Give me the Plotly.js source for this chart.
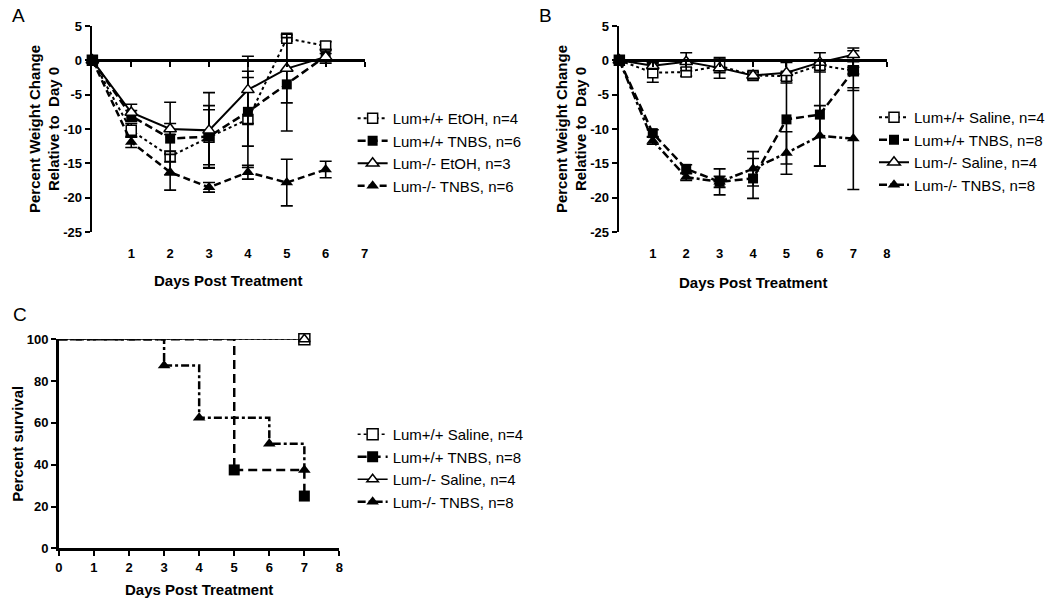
<!DOCTYPE html>
<html><head><meta charset="utf-8">
<script src="https://cdn.plot.ly/plotly-3.0.1.min.js"></script>
<style>html,body{margin:0;padding:0;background:#fff}#chart{width:1050px;height:605px}</style>
</head><body><div id="chart"></div>
<script>
const FONT = 'Liberation Sans, Arial, Helvetica, sans-serif';

// ---------- Panel A data ----------
const daysA = [0, 1, 2, 3, 4, 5, 6];
const aWtEtoh = [0, -10.2, -14.0, -11.2, -8.6, 3.2, 2.1];
const aWtEtohErr = [null, 1.0, 0.8, 4.0, 7.0, 0.4, 0.6];
const aWtTnbs = [0, -8.1, -11.4, -11.1, -7.5, -3.5, 0.6];
const aWtTnbsErr = [null, 0.8, 5.3, 4.5, 5.0, 6.8, 1.0];
const aKoEtoh = [0, -7.6, -10.0, -10.2, -4.3, -1.2, 0.5];
const aKoEtohErr = [null, 1.2, 0.8, 5.5, 4.9, 5.0, 0.5];
const aKoTnbs = [0, -11.9, -16.3, -18.5, -16.3, -17.8, -15.9];
const aKoTnbsErr = [null, 0.8, 2.6, 0.7, 1.0, 3.4, 1.2];
const namesA = ['Lum+/+ EtOH, n=4', 'Lum+/+ TNBS, n=6', 'Lum-/- EtOH, n=3', 'Lum-/- TNBS, n=6'];
const xTicksA = [1, 2, 3, 4, 5, 6, 7];

// ---------- Panel B data ----------
const daysB = [0, 1, 2, 3, 4, 5, 6, 7];
const bWtSal = [0, -1.8, -1.7, -0.8, -2.2, -2.3, -0.7, -1.5];
const bWtSalErr = [null, 1.4, 0.6, 1.0, 0.5, 0.6, 0.6, 0.5];
const bWtTnbs = [0, -10.6, -15.8, -17.7, -17.2, -8.6, -7.9, -1.5];
const bWtTnbsErr = [null, 0.5, 0.6, 1.9, 2.9, 6.5, 7.5, 2.9];
const bKoSal = [0, -0.8, -0.2, -1.1, -2.2, -1.8, -0.3, 0.8];
const bKoSalErr = [null, 0.5, 1.3, 1.5, 0.5, 1.5, 1.4, 1.0];
const bKoTnbs = [0, -11.7, -17.0, -17.7, -15.8, -13.5, -11.0, -11.4];
const bKoTnbsErr = [null, 0.5, 0.5, 0.8, 2.5, 3.1, 4.4, 7.4];
const namesB = ['Lum+/+ Saline, n=4', 'Lum+/+ TNBS, n=8', 'Lum-/- Saline, n=4', 'Lum-/- TNBS, n=8'];
const xTicksB = [1, 2, 3, 4, 5, 6, 7, 8];

// weight-change y ticks
const yTicksW = [-25, -20, -15, -10, -5, 0, 5];
const yTickTextW = ['-25', '-20', '-15', '-10', '-5', '0', '5'];

// ---------- Panel C data (survival) ----------
const cWtSalDays = [0, 7];
const cWtSal = [100, 100];
const cWtTnbsDays = [0, 5, 7];
const cWtTnbs = [100, 37.5, 25];
const cKoSalDays = [0, 7];
const cKoSal = [100, 100];
const cKoTnbsDays = [0, 3, 4, 6, 7];
const cKoTnbs = [100, 87.5, 62.5, 50, 37.5];
const namesC = ['Lum+/+ Saline, n=4', 'Lum+/+ TNBS, n=8', 'Lum-/- Saline, n=4', 'Lum-/- TNBS, n=8'];
const xTicksC = [0, 1, 2, 3, 4, 5, 6, 7, 8];
const yTicksC = [0, 20, 40, 60, 80, 100];

const xTitle = 'Days Post Treatment';

// ---------- styles ----------
const STY = [
  {sym: 'square', fill: '#fff', dash: 'dot', w: 2, size: 10},
  {sym: 'square', fill: '#000', dash: '8px,4px', w: 2.5, size: 10},
  {sym: 'triangle-up', fill: '#fff', dash: 'solid', w: 2, size: 11},
  {sym: 'triangle-up', fill: '#000', dash: '7px,4px', w: 2.5, size: 11}
];
const STY_B = [STY[0], STY[1], STY[2], {sym: 'triangle-up', fill: '#000', dash: '8px,3px,3px,3px', w: 2.5, size: 11}];

function mk(st) {
  return {symbol: st.sym, size: st.size, color: st.fill, opacity: 1,
          line: {color: '#000', width: st.fill === '#fff' ? 1.5 : 0}};
}
function wtrace(x, y, err, name, st, xa, ya, leg) {
  return {
    x: x, y: y, name: name, type: 'scatter', mode: 'lines+markers',
    xaxis: xa, yaxis: ya, legend: leg, cliponaxis: false,
    line: {color: '#000', width: st.w, dash: st.dash},
    marker: mk(st),
    error_y: {type: 'data', array: err, visible: true, color: '#000', thickness: 1.6, width: 6}
  };
}
// survival: the first segment (from day 0 to the first event) as a plain line,
// then the events with their symbols
function strace(x, y, name, st) {
  return [{
    x: x.slice(0, 2), y: y.slice(0, 2), type: 'scatter', mode: 'lines', showlegend: false,
    xaxis: 'x3', yaxis: 'y3', legend: 'legend3', cliponaxis: false, legendgroup: name,
    line: {color: '#000', width: st.w, dash: st.dash, shape: 'hv'}
  }, {
    x: x.slice(1), y: y.slice(1), name: name, type: 'scatter', mode: 'lines+markers',
    xaxis: 'x3', yaxis: 'y3', legend: 'legend3', cliponaxis: false, legendgroup: name,
    line: {color: '#000', width: st.w, dash: st.dash, shape: 'hv'},
    marker: mk(st)
  }];
}

const data = [
  wtrace(daysA, aWtEtoh, aWtEtohErr, namesA[0], STY[0], 'x', 'y', 'legend'),
  wtrace(daysA, aWtTnbs, aWtTnbsErr, namesA[1], STY[1], 'x', 'y', 'legend'),
  wtrace(daysA, aKoEtoh, aKoEtohErr, namesA[2], STY[2], 'x', 'y', 'legend'),
  wtrace(daysA, aKoTnbs, aKoTnbsErr, namesA[3], STY[3], 'x', 'y', 'legend'),
  wtrace(daysB, bWtSal, bWtSalErr, namesB[0], STY_B[0], 'x2', 'y2', 'legend2'),
  wtrace(daysB, bWtTnbs, bWtTnbsErr, namesB[1], STY_B[1], 'x2', 'y2', 'legend2'),
  wtrace(daysB, bKoSal, bKoSalErr, namesB[2], STY_B[2], 'x2', 'y2', 'legend2'),
  wtrace(daysB, bKoTnbs, bKoTnbsErr, namesB[3], STY_B[3], 'x2', 'y2', 'legend2')
].concat(
  strace(cWtSalDays, cWtSal, namesC[0], {sym: 'square', fill: '#fff', dash: 'dot', size: 11, w: 1.5}),
  strace(cWtTnbsDays, cWtTnbs, namesC[1], {sym: 'square', fill: '#000', dash: '9px,5px', size: 11, w: 2.5}),
  strace(cKoSalDays, cKoSal, namesC[2], {sym: 'triangle-up', fill: '#fff', dash: 'solid', size: 10, w: 1.5}),
  strace(cKoTnbsDays, cKoTnbs, namesC[3], {sym: 'triangle-up', fill: '#000', dash: '8px,3px,3px,3px', size: 11, w: 2.5})
);

const W = 1050, H = 605;
const px = v => v / W, py = v => 1 - v / H;
const tickFont = {family: FONT, size: 13, color: '#000', weight: 'bold'};
const titleFont = {family: FONT, size: 15, color: '#000', weight: 'bold'};

// A / B domains
const domAx = [px(93), px(367)], domAy = [py(232), py(26)];
const domBx = [px(623.5), px(892.7)], domBy = [py(232), py(26)];
const zeroPos = d => d[0] + (0 - (-25)) / 30 * (d[1] - d[0]);

function xW(domain, range, ticks, pos) {
  return {domain: domain, range: range, anchor: 'free', position: pos,
    tickmode: 'array', tickvals: ticks, ticks: 'outside', ticklen: 5, tickwidth: 2, tickcolor: '#000',
    ticklabelstandoff: 175, tickfont: tickFont,
    showline: true, linewidth: 2.8, linecolor: '#000', showgrid: false, zeroline: false};
}
function yW(domain, anchor) {
  return {domain: domain, range: [-25, 5], anchor: anchor,
    tickmode: 'array', tickvals: yTicksW, ticktext: yTickTextW,
    ticks: 'outside', ticklen: 5, tickwidth: 2, tickcolor: '#000', tickfont: tickFont,
    showline: true, linewidth: 2.8, linecolor: '#000', showgrid: false, zeroline: false,
    title: {text: 'Percent Weight Change<br>Relative to\u00a0 Day 0', font: titleFont, standoff: 0}};
}
const legBase = {xanchor: 'left', yanchor: 'top', bgcolor: 'rgba(0,0,0,0)', borderwidth: 0,
  font: {family: FONT, size: 15, color: '#000'}, itemwidth: 30, tracegroupgap: 0};

const ann = (text, x, y, size, bold, xanchor) => ({text: text, x: x, y: y, xref: 'paper', yref: 'paper',
  xanchor: xanchor || 'left', yanchor: 'middle', showarrow: false,
  font: {family: FONT, size: size, color: '#000', weight: bold ? 'bold' : 'normal'}});

const layout = {
  width: W, height: H, margin: {l: 0, r: 0, t: 0, b: 0},
  paper_bgcolor: '#fff', plot_bgcolor: '#fff', showlegend: true,
  font: {family: FONT, color: '#000'},
  xaxis: xW(domAx, [0, 7], xTicksA, zeroPos(domAy)),
  yaxis: yW(domAy, 'x'),
  xaxis2: xW(domBx, [0, 8], xTicksB, zeroPos(domBy)),
  yaxis2: yW(domBy, 'x2'),
  xaxis3: {domain: [px(59.3), px(341.7)], range: [0, 8], anchor: 'y3',
    tickmode: 'array', tickvals: xTicksC, ticks: 'outside', ticklen: 5, tickwidth: 2, tickcolor: '#000',
    tickfont: tickFont, showline: true, linewidth: 2.8, linecolor: '#000', showgrid: false, zeroline: false,
    title: {text: xTitle, font: titleFont, standoff: 11}},
  yaxis3: {domain: [py(548.3), py(339.3)], range: [0, 100], anchor: 'x3',
    tickmode: 'array', tickvals: yTicksC, ticks: 'outside', ticklen: 5, tickwidth: 2, tickcolor: '#000',
    tickfont: tickFont, showline: true, linewidth: 2.8, linecolor: '#000', showgrid: false, zeroline: false,
    title: {text: 'Percent survival', font: titleFont, standoff: 0}},
  legend: Object.assign({}, legBase, {x: px(355), y: py(102)}),
  legend2: Object.assign({}, legBase, {x: px(880), y: py(101)}),
  legend3: Object.assign({}, legBase, {x: px(355), y: py(418)}),
  annotations: [
    ann('A', px(10), py(15), 19, false),
    ann('B', px(541), py(15), 19, false),
    ann('C', px(11), py(314), 19, false),
    ann(xTitle, (domAx[0] + domAx[1]) / 2, py(280), 15, true, 'center'),
    ann(xTitle, (domBx[0] + domBx[1]) / 2, py(282), 15, true, 'center')
  ]
};

Plotly.newPlot('chart', data, layout, {staticPlot: true, displayModeBar: false});
</script>
</body></html>
